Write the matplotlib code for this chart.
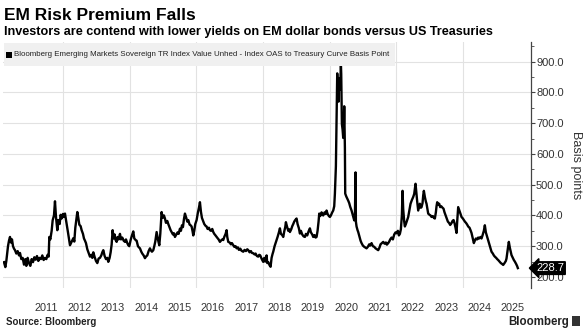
import matplotlib
matplotlib.use("Agg")
import matplotlib.pyplot as plt
from matplotlib.patches import Rectangle
from matplotlib.ticker import MultipleLocator

plt.rcParams["font.family"] = ["Liberation Sans", "DejaVu Sans"]

# EM sovereign OAS vs Treasuries (bp), decimal years
years = [
    2010.23, 2010.27, 2010.30, 2010.35, 2010.38, 2010.41, 2010.44, 2010.47, 2010.50, 2010.53,
    2010.56, 2010.60, 2010.64, 2010.68, 2010.71, 2010.75, 2010.79, 2010.83, 2010.87, 2010.90,
    2010.94, 2010.98, 2011.02, 2011.06, 2011.10, 2011.14, 2011.18, 2011.22, 2011.26, 2011.30,
    2011.34, 2011.38, 2011.42, 2011.46, 2011.50, 2011.54, 2011.57, 2011.59, 2011.62, 2011.66,
    2011.69, 2011.73, 2011.76, 2011.79, 2011.83, 2011.86, 2011.90, 2011.93, 2011.96, 2012.00,
    2012.03, 2012.06, 2012.09, 2012.11, 2012.15, 2012.18, 2012.21, 2012.25, 2012.28, 2012.31,
    2012.34, 2012.37, 2012.40, 2012.43, 2012.46, 2012.49, 2012.53, 2012.56, 2012.60, 2012.63,
    2012.66, 2012.69, 2012.73, 2012.77, 2012.81, 2012.85, 2012.88, 2012.91, 2012.95, 2012.99,
    2013.03, 2013.07, 2013.11, 2013.15, 2013.18, 2013.21, 2013.25, 2013.29, 2013.33, 2013.36,
    2013.40, 2013.43, 2013.46, 2013.49, 2013.52, 2013.55, 2013.58, 2013.61, 2013.64, 2013.67,
    2013.71, 2013.74, 2013.78, 2013.82, 2013.86, 2013.89, 2013.93, 2013.96, 2013.99, 2014.03,
    2014.07, 2014.11, 2014.14, 2014.18, 2014.21, 2014.25, 2014.28, 2014.31, 2014.35, 2014.38,
    2014.42, 2014.46, 2014.49, 2014.53, 2014.57, 2014.61, 2014.64, 2014.67, 2014.71, 2014.74,
    2014.77, 2014.81, 2014.85, 2014.89, 2014.92, 2014.96, 2014.99, 2015.03, 2015.06, 2015.09,
    2015.13, 2015.16, 2015.20, 2015.23, 2015.26, 2015.30, 2015.33, 2015.36, 2015.40, 2015.44,
    2015.47, 2015.51, 2015.54, 2015.57, 2015.60, 2015.63, 2015.66, 2015.70, 2015.73, 2015.76,
    2015.80, 2015.83, 2015.86, 2015.89, 2015.91, 2015.94, 2015.97, 2016.01, 2016.05, 2016.08,
    2016.11, 2016.14, 2016.17, 2016.21, 2016.24, 2016.28, 2016.31, 2016.34, 2016.38, 2016.41,
    2016.44, 2016.48, 2016.51, 2016.54, 2016.57, 2016.61, 2016.64, 2016.67, 2016.71, 2016.74,
    2016.78, 2016.81, 2016.84, 2016.88, 2016.91, 2016.93, 2016.96, 2017.00, 2017.04, 2017.07,
    2017.11, 2017.14, 2017.18, 2017.21, 2017.25, 2017.28, 2017.32, 2017.36, 2017.41, 2017.45,
    2017.49, 2017.53, 2017.56, 2017.60, 2017.64, 2017.67, 2017.71, 2017.75, 2017.78, 2017.82,
    2017.86, 2017.89, 2017.92, 2017.95, 2017.98, 2018.01, 2018.04, 2018.07, 2018.11, 2018.13,
    2018.16, 2018.20, 2018.23, 2018.26, 2018.29, 2018.31, 2018.35, 2018.38, 2018.41, 2018.44,
    2018.48, 2018.51, 2018.54, 2018.58, 2018.61, 2018.64, 2018.67, 2018.69, 2018.72, 2018.76,
    2018.79, 2018.81, 2018.85, 2018.88, 2018.91, 2018.94, 2018.97, 2019.01, 2019.04, 2019.08,
    2019.11, 2019.14, 2019.18, 2019.22, 2019.26, 2019.29, 2019.33, 2019.37, 2019.41, 2019.44,
    2019.48, 2019.51, 2019.55, 2019.58, 2019.61, 2019.64, 2019.67, 2019.69, 2019.72, 2019.76,
    2019.79, 2019.81, 2019.85, 2019.88, 2019.91, 2019.94, 2019.98, 2020.01, 2020.04, 2020.08,
    2020.11, 2020.14, 2020.16, 2020.19, 2020.21, 2020.23, 2020.25, 2020.27, 2020.28, 2020.30,
    2020.32, 2020.34, 2020.35, 2020.37, 2020.39, 2020.41, 2020.43, 2020.44, 2020.46, 2020.47,
    2020.50, 2020.53, 2020.56, 2020.59, 2020.62, 2020.66, 2020.70, 2020.74, 2020.76, 2020.78,
    2020.79, 2020.81, 2020.84, 2020.86, 2020.90, 2020.93, 2020.96, 2021.00, 2021.04, 2021.08,
    2021.11, 2021.15, 2021.19, 2021.22, 2021.26, 2021.30, 2021.34, 2021.38, 2021.42, 2021.46,
    2021.50, 2021.53, 2021.57, 2021.61, 2021.65, 2021.69, 2021.72, 2021.76, 2021.79, 2021.82,
    2021.86, 2021.90, 2021.94, 2021.98, 2022.01, 2022.05, 2022.08, 2022.11, 2022.14, 2022.17,
    2022.19, 2022.21, 2022.24, 2022.26, 2022.29, 2022.33, 2022.36, 2022.40, 2022.43, 2022.47,
    2022.51, 2022.54, 2022.56, 2022.58, 2022.60, 2022.63, 2022.66, 2022.69, 2022.71, 2022.74,
    2022.76, 2022.79, 2022.81, 2022.83, 2022.86, 2022.89, 2022.91, 2022.94, 2022.96, 2023.00,
    2023.03, 2023.06, 2023.10, 2023.13, 2023.16, 2023.19, 2023.21, 2023.23, 2023.26, 2023.29,
    2023.32, 2023.35, 2023.39, 2023.42, 2023.45, 2023.49, 2023.52, 2023.55, 2023.59, 2023.62,
    2023.66, 2023.69, 2023.72, 2023.75, 2023.78, 2023.81, 2023.83, 2023.86, 2023.89, 2023.93,
    2023.96, 2024.00, 2024.03, 2024.06, 2024.10, 2024.13, 2024.16, 2024.20, 2024.23, 2024.26,
    2024.30, 2024.33, 2024.36, 2024.39, 2024.43, 2024.46, 2024.49, 2024.53, 2024.56, 2024.59,
    2024.63, 2024.66, 2024.69, 2024.73, 2024.76, 2024.80, 2024.83, 2024.86, 2024.90, 2024.93,
    2024.96, 2025.00, 2025.03, 2025.06, 2025.10, 2025.14, 2025.18, 2025.21, 2025.25, 2025.29,
    2025.31, 2025.34, 2025.36, 2025.38, 2025.41, 2025.44, 2025.46, 2025.50, 2025.53, 2025.56,
    2025.60, 2025.63, 2025.65,
]
spread_bp = [
    248, 232, 252, 300, 318, 330, 312, 322, 300, 292,
    287, 276, 284, 270, 278, 258, 262, 240, 258, 236,
    262, 245, 236, 258, 248, 264, 256, 268, 252, 262,
    258, 270, 255, 262, 258, 272, 266, 330, 322, 350,
    384, 400, 446, 395, 352, 385, 372, 402, 390, 405,
    395, 406, 385, 372, 345, 325, 303, 312, 318, 326,
    315, 360, 385, 411, 392, 370, 365, 352, 340, 325,
    318, 310, 290, 278, 266, 272, 262, 280, 265, 252,
    245, 260, 262, 270, 280, 287, 268, 258, 262, 249,
    262, 280, 305, 352, 325, 338, 320, 314, 330, 322,
    340, 322, 328, 318, 314, 322, 310, 303, 300, 320,
    335, 348, 325, 320, 318, 300, 296, 293, 282, 276,
    270, 261, 266, 270, 284, 293, 286, 282, 287, 300,
    315, 346, 322, 303, 340, 411, 392, 400, 390, 376,
    382, 372, 360, 352, 346, 338, 342, 330, 338, 345,
    340, 357, 350, 368, 362, 388, 406, 392, 380, 385,
    370, 368, 364, 348, 335, 350, 372, 385, 410, 425,
    443, 412, 392, 380, 372, 366, 364, 356, 360, 352,
    350, 356, 346, 340, 336, 330, 326, 322, 314, 318,
    322, 320, 330, 340, 352, 330, 314, 312, 306, 310,
    303, 298, 300, 293, 296, 288, 292, 285, 282, 288,
    284, 290, 287, 280, 284, 278, 277, 273, 276, 268,
    266, 272, 270, 262, 255, 249, 262, 250, 270, 245,
    248, 238, 233, 262, 275, 282, 300, 310, 319, 330,
    345, 358, 340, 336, 330, 348, 362, 378, 365, 350,
    355, 346, 355, 365, 372, 380, 385, 390, 372, 358,
    341, 350, 338, 332, 330, 340, 335, 348, 358, 345,
    338, 330, 336, 328, 330, 350, 380, 406, 398, 410,
    402, 400, 410, 405, 416, 405, 398, 395, 400, 410,
    416, 430, 471, 560, 720, 862, 800, 770, 824, 845,
    810, 895, 860, 697, 680, 652, 700, 755, 620, 471,
    462, 455, 448, 440, 428, 416, 400, 384, 395, 540,
    380, 364, 352, 346, 330, 318, 310, 302, 298, 295,
    293, 298, 306, 302, 310, 300, 298, 293, 290, 287,
    296, 306, 310, 314, 308, 312, 305, 310, 315, 322,
    328, 322, 338, 345, 342, 350, 335, 340, 355, 400,
    480, 420, 380, 364, 372, 385, 395, 420, 438, 450,
    460, 470, 488, 503, 480, 445, 416, 430, 438, 425,
    427, 440, 465, 480, 460, 445, 438, 420, 406, 402,
    400, 395, 398, 392, 390, 410, 430, 443, 435, 438,
    427, 430, 425, 422, 410, 398, 390, 380, 375, 369,
    375, 382, 385, 375, 360, 343, 380, 427, 418, 405,
    395, 390, 385, 380, 375, 370, 364, 360, 352, 343,
    325, 310, 318, 325, 322, 328, 325, 330, 325, 335,
    350, 368, 345, 330, 320, 305, 292, 282, 276, 270,
    266, 262, 258, 255, 250, 245, 242, 239, 245, 252,
    260, 285, 300, 314, 295, 280, 271, 262, 255, 250,
    242, 235, 228.7,
]

year_labels = list(range(2011, 2026))
grid_years = [2012, 2014, 2016, 2018, 2020, 2022, 2024]
y_ticks = [200, 300, 400, 500, 600, 700, 800, 900]

TITLE = "EM Risk Premium Falls"
SUBTITLE = "Investors are contend with lower yields on EM dollar bonds versus US Treasuries"
SERIES = ("Bloomberg Emerging Markets Sovereign TR Index Value Unhed - "
          "Index OAS to Treasury Curve Basis Point")

W, H = 588, 334
fig = plt.figure(figsize=(W / 100, H / 100), dpi=100)
ax = fig.add_axes([3 / W, 1 - 288 / H, 527.5 / W, 246 / H])

# grid
for g in y_ticks:
    ax.axhline(g, color="#e2e2e2", lw=0.8, zorder=0)
for g in grid_years:
    ax.axvline(g, color="#e2e2e2", lw=0.8, zorder=0)

ax.plot(years, spread_bp, color="black", lw=1.7, zorder=3)

ax.set_xlim(2010.2, 2026.03)
ax.set_ylim(164, 964)

# axes styling
for s in ["top", "left", "bottom"]:
    ax.spines[s].set_visible(False)
ax.spines["right"].set_color("#444444")
ax.spines["right"].set_linewidth(0.9)

ax.yaxis.tick_right()
ax.set_yticks(y_ticks)
ax.set_yticklabels([f"{t:.1f}" for t in y_ticks])
ax.yaxis.set_minor_locator(MultipleLocator(50))
ax.tick_params(axis="y", which="major", length=3, width=0.8, pad=1,
               labelsize=8, color="#444444", labelcolor="#333333")
ax.tick_params(axis="y", which="minor", length=2, width=0.6, color="#444444")

ax.set_xticks([y + 0.5 for y in year_labels])
ax.set_xticklabels([str(y) for y in year_labels])
ax.tick_params(axis="x", length=0, pad=11, labelsize=7.8, labelcolor="#333333")

ax.yaxis.set_label_position("right")
ax.set_ylabel("Basis points", rotation=270, fontsize=9, color="#333333", labelpad=13)

# last value tag
ax.annotate(f"{spread_bp[-1]:.1f}", xy=(1, spread_bp[-1]),
            xycoords=("axes fraction", "data"), xytext=(4, 0),
            textcoords="offset points", va="center", ha="left",
            color="white", fontsize=8, zorder=5,
            bbox=dict(boxstyle="larrow,pad=0.12", fc="black", ec="black"))

# legend strip
fig.patches.append(Rectangle((4 / W, 1 - 66 / H), 391 / W, 23 / H,
                             transform=fig.transFigure, fc="#f0f0f0",
                             ec="none", zorder=1))
fig.patches.append(Rectangle((6 / W, 1 - 58 / H), 6 / W, 6 / H,
                             transform=fig.transFigure, fc="black",
                             ec="none", zorder=2))
fig.text(14 / W, 1 - 55 / H, SERIES, fontsize=5.7, color="#222222",
         va="center", ha="left")

# titles
fig.text(4 / W, 1 - 20 / H, TITLE, fontsize=12.5, weight="bold", va="baseline")
fig.text(4 / W, 1 - 35 / H, SUBTITLE, fontsize=9.1, weight="bold", va="baseline")

# footer
fig.text(6 / W, 1 - 325 / H, "Source: Bloomberg", fontsize=7, weight="bold",
         color="#222222", va="baseline")
fig.text(569 / W, 1 - 325 / H, "Bloomberg", fontsize=8.3, weight="bold",
         color="#222222", va="baseline", ha="right")
fig.patches.append(Rectangle((572 / W, 1 - 326 / H), 8 / W, 10 / H,
                             transform=fig.transFigure, fc="#333333",
                             ec="none"))

fig.savefig("out.png", dpi=100)
